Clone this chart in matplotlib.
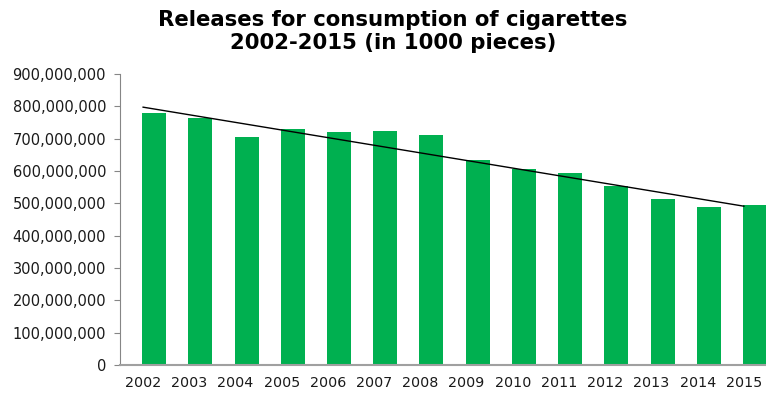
import matplotlib
matplotlib.use("Agg")
import matplotlib.pyplot as plt
import numpy as np
from matplotlib.ticker import FuncFormatter, MultipleLocator

years = ["2002", "2003", "2004", "2005", "2006", "2007", "2008",
         "2009", "2010", "2011", "2012", "2013", "2014", "2015"]
releases = [778e6, 763e6, 706e6, 729e6, 722e6, 725e6, 710e6,
            634e6, 607e6, 594e6, 555e6, 514e6, 488e6, 495e6]

title = "Releases for consumption of cigarettes\n2002-2015 (in 1000 pieces)"

fig = plt.figure(figsize=(7.66, 3.94), dpi=100)
ax = fig.add_axes([120 / 766, (394 - 365) / 394, (767 - 120) / 766, (365 - 74) / 394])

x = np.arange(len(years))
ax.bar(x + 0.24, releases, width=0.52, color="#00B050", zorder=2)

coef = np.polyfit(x, releases, 1)
ax.plot(x[[0, -1]], np.polyval(coef, x[[0, -1]]), color="black", lw=1.0, zorder=3)

ax.set_xlim(-0.5, len(years) - 0.5)
ax.set_ylim(0, 900e6)
ax.yaxis.set_major_locator(MultipleLocator(100e6))
ax.yaxis.set_major_formatter(FuncFormatter(lambda v, p: f"{int(round(v)):,}"))
ax.set_xticks(x)
ax.set_xticklabels(years)

for s in ["top", "right"]:
    ax.spines[s].set_visible(False)
ax.spines["left"].set_color("#868686")
ax.spines["bottom"].set_color("#a0a0a0")
ax.spines["bottom"].set_linewidth(1.5)
ax.tick_params(axis="y", length=4, color="#868686", labelsize=10.5, pad=6, labelcolor="#1a1a1a")
ax.tick_params(axis="x", length=0, labelsize=10.3, pad=8, labelcolor="#1a1a1a")

fig.text(0.513, 0.975, title, ha="center", va="top", fontsize=15.3,
         fontweight="bold", linespacing=1.2)

fig.savefig("out.png", dpi=100)
